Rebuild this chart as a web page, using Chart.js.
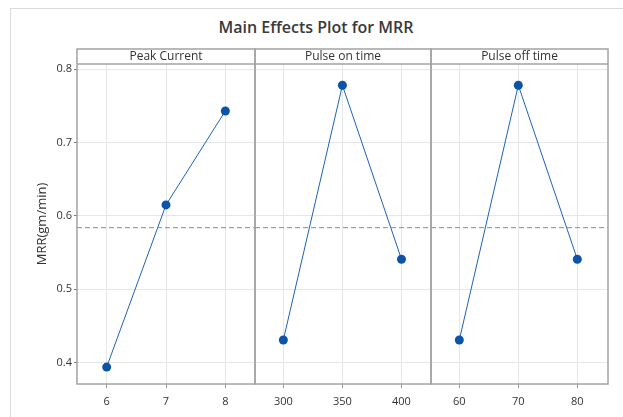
<!DOCTYPE html>
<html>
<head>
<meta charset="utf-8">
<script src="https://cdn.jsdelivr.net/npm/chart.js@4/dist/chart.umd.min.js"></script>
<style>
  html, body { margin: 0; padding: 0; background: #fff; }
  #wrap { position: relative; width: 623px; height: 417px; overflow: hidden; background: #fff; }
  #frame { position: absolute; left: 10px; top: 8px; width: 700px; height: 500px;
           border-left: 1px solid #dcdcdc; border-top: 1px solid #dcdcdc; }
  #title { position: absolute; left: 0; width: 632px; top: 16px; text-align: center;
           font-family: "Open Sans", sans-serif; font-weight: 600; font-size: 16px; color: #3a3a3a; }
  canvas { position: absolute; left: 0; top: 0; }
</style>
</head>
<body>
<div id="wrap">
  <div id="frame"></div>
  <div id="title">Main Effects Plot for MRR</div>
  <canvas id="c1" width="623" height="417"></canvas>
  <canvas id="c2" width="623" height="417"></canvas>
  <canvas id="c3" width="623" height="417"></canvas>
</div>
<script>
// ---- data ----
const factorNames = ["Peak Current", "Pulse on time", "Pulse off time"];
const peakCurrentLevels = [6, 7, 8];
const peakCurrentMRR = [0.394, 0.615, 0.743];
const pulseOnLevels = [300, 350, 400];
const pulseOnMRR = [0.431, 0.778, 0.541];
const pulseOffLevels = [60, 70, 80];
const pulseOffMRR = [0.431, 0.778, 0.541];
const yTicks = [0.4, 0.5, 0.6, 0.7, 0.8];
const yLabel = "MRR(gm/min)";

const grandMean = peakCurrentMRR.reduce((a, b) => a + b, 0) / peakCurrentMRR.length;

const FONT = "'Open Sans', sans-serif";
const TXT = "#333";
const GRID = "#e6e6e6";
const EDGE = "#a3a3a3";

const panelPlugin = {
  id: 'panel',
  afterDatasetsDraw(chart, args, opts) {
    const ctx = chart.ctx;
    const a = chart.chartArea;
    const ys = chart.scales.y;
    const yp = ys.getPixelForValue(grandMean);
    ctx.save();
    // mean reference line
    ctx.strokeStyle = "#8c8c8c";
    ctx.lineWidth = 1;
    ctx.setLineDash([5, 3]);
    ctx.beginPath();
    ctx.moveTo(a.left, yp);
    ctx.lineTo(a.right, yp);
    ctx.stroke();
    ctx.setLineDash([]);
    ctx.restore();
  },
  afterDraw(chart, args, opts) {
    const ctx = chart.ctx;
    const a = chart.chartArea;
    ctx.save();
    ctx.strokeStyle = EDGE;
    ctx.lineWidth = 1.5;
    // panel box including header
    ctx.strokeRect(a.left, a.top - 15, a.right - a.left, a.bottom - a.top + 15);
    ctx.beginPath();
    ctx.moveTo(a.left, a.top);
    ctx.lineTo(a.right, a.top);
    ctx.stroke();
    ctx.fillStyle = TXT;
    ctx.font = "12px " + FONT;
    ctx.textAlign = "center";
    ctx.textBaseline = "middle";
    ctx.fillText(opts.label, (a.left + a.right) / 2, a.top - 7);
    ctx.restore();
  }
};

function makePanel(id, levels, values, label, padL, padR, xMin, xMax, showY) {
  const yScale = {
    min: 0.371, max: 0.807,
    afterBuildTicks: s => { s.ticks = yTicks.map(v => ({ value: v })); },
    grid: { color: GRID, lineWidth: 1, drawTicks: showY, tickLength: 3, tickColor: "#777" },
    border: { display: false },
    ticks: { display: showY, color: TXT, padding: 2, font: { family: FONT, size: 11 },
             callback: v => v.toFixed(1) },
    title: { display: showY, text: yLabel, color: TXT, font: { family: FONT, size: 13 },
             padding: { top: 34, bottom: 0 } },
    afterFit: s => { s.width = showY ? 77 : 0; }
  };
  return new Chart(document.getElementById(id), {
    type: 'line',
    data: {
      datasets: [{
        data: levels.map((l, i) => ({ x: l, y: values[i] })),
        borderColor: "#1f62b5",
        borderWidth: 1,
        pointRadius: 4.5,
        pointBackgroundColor: "#0b54a8",
        pointBorderColor: "#0b54a8",
        pointBorderWidth: 0,
        tension: 0
      }]
    },
    options: {
      responsive: false,
      animation: false,
      layout: { padding: { left: padL, right: padR, top: 64, bottom: 0 } },
      plugins: { legend: { display: false }, tooltip: { enabled: false }, title: { display: false },
                 panel: { label: label } },
      scales: {
        x: {
          type: 'linear', min: xMin, max: xMax,
          afterBuildTicks: s => { s.ticks = levels.map(v => ({ value: v })); },
          grid: { color: GRID, lineWidth: 1, drawTicks: true, tickLength: 4, tickColor: "#999" },
          border: { display: false },
          ticks: { color: TXT, padding: 7, maxRotation: 0, font: { family: FONT, size: 11 } },
          afterFit: s => { s.height = 33; }
        },
        y: yScale
      }
    },
    plugins: [panelPlugin]
  });
}

makePanel('c1', peakCurrentLevels, peakCurrentMRR, factorNames[0], 0, 623 - 255, 5.5, 8.5, true);
makePanel('c2', pulseOnLevels, pulseOnMRR, factorNames[1], 255, 623 - 431, 276, 425, false);
makePanel('c3', pulseOffLevels, pulseOffMRR, factorNames[2], 431, 623 - 608, 55.2, 85.2, false);
</script>
</body>
</html>
